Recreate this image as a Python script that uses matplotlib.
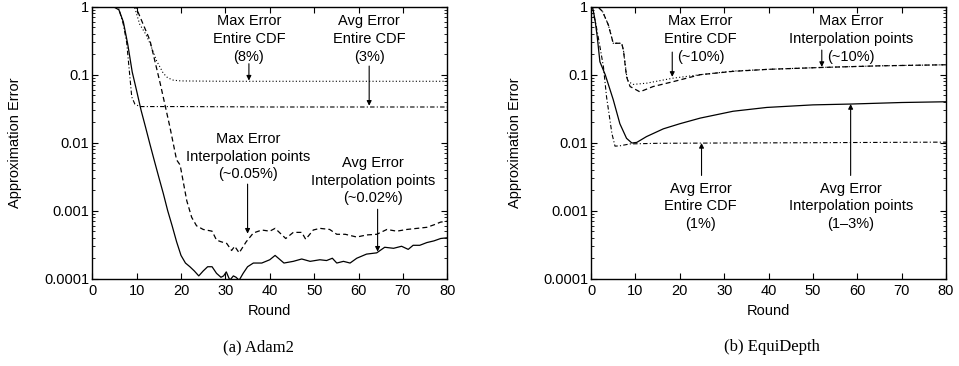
import matplotlib
matplotlib.use("Agg")
import matplotlib.pyplot as plt
from matplotlib.ticker import FixedLocator, FixedFormatter, LogLocator, NullFormatter

plt.rcParams['font.family'] = ['Liberation Sans', 'DejaVu Sans']

# ---- (a) Adam2 ----
adam_avg_interp_x = [0, 4, 5, 6, 7, 8, 9, 10, 11, 12, 13, 14, 15, 16, 17, 18, 19, 20, 21, 22, 23, 24,
                     25, 26, 27, 28, 29, 29.6, 30.2, 31, 31.8, 32.4, 33.1, 34, 35, 36.3, 38.2, 40, 41.2,
                     43.2, 45.3, 47.2, 49.1, 51.3, 52.8, 54.1, 55.1, 56.6, 58.1, 59.6, 61.8, 64.1, 65.9,
                     67.9, 69.7, 71.2, 72.3, 73.8, 75.4, 77, 78.5, 80]
adam_avg_interp_y = [1, 1, 0.98, 0.9, 0.6, 0.28, 0.11, 0.058, 0.03, 0.017, 0.0095, 0.0054, 0.0031,
                     0.0018, 0.001, 0.0006, 0.00035, 0.00022, 0.00017, 0.00015, 0.00013, 0.00011,
                     0.00013, 0.00015, 0.00015, 0.00012, 0.000105, 0.00011, 0.000126, 0.000095,
                     0.00011, 0.000105, 0.000095, 0.00012, 0.00015, 0.00017, 0.00017, 0.00019, 0.00022,
                     0.00017, 0.00018, 0.000195, 0.00018, 0.00019, 0.000185, 0.0002, 0.00017, 0.00018,
                     0.00017, 0.0002, 0.00023, 0.00024, 0.00029, 0.00028, 0.0003, 0.00027, 0.00031,
                     0.00031, 0.00034, 0.00036, 0.00039, 0.0004]

adam_max_interp_x = [0, 9.8, 13, 15.3, 17.5, 19, 19.8, 21.3, 22.4, 23.5, 25, 27, 28, 29, 30.3, 31.4,
                     32.1, 33.1, 34.7, 36.3, 38.2, 40, 41.2, 42.3, 43.6, 45.3, 47.2, 48.1, 49.8, 51.3,
                     53.5, 55.1, 57, 59.6, 61.8, 64.1, 66.4, 68.6, 70.9, 73.2, 75.4, 77, 78.5, 80]
adam_max_interp_y = [1, 1, 0.32, 0.075, 0.017, 0.0056, 0.0047, 0.0014, 0.0008, 0.0006, 0.00053,
                     0.0005, 0.00037, 0.00035, 0.00033, 0.00026, 0.0003, 0.00024, 0.00035, 0.00047,
                     0.00052, 0.0005, 0.00055, 0.00047, 0.00039, 0.00048, 0.00048, 0.00038, 0.00052,
                     0.00055, 0.00053, 0.00045, 0.00045, 0.00041, 0.00044, 0.00045, 0.00053, 0.0005,
                     0.00053, 0.00055, 0.00057, 0.00062, 0.00068, 0.0007]

adam_max_cdf_x = [0, 9.5, 10.7, 12, 13, 14.5, 16, 17, 18.3, 20, 30, 50, 80]
adam_max_cdf_y = [1, 1, 0.55, 0.4, 0.29, 0.16, 0.105, 0.09, 0.083, 0.081, 0.08, 0.08, 0.08]

adam_avg_cdf_x = [0, 5, 6, 7, 7.75, 8.5, 8.9, 9.6, 10.7, 12, 20, 40, 60, 80]
adam_avg_cdf_y = [1, 1, 0.93, 0.55, 0.3, 0.09, 0.047, 0.037, 0.034, 0.034, 0.034, 0.0335, 0.0335, 0.0335]

# ---- (b) EquiDepth ----
eq_avg_interp_x = [0, 0.4, 0.9, 1.4, 2, 3.2, 5, 6.5, 8, 9.2, 10.3, 12.5, 16.3, 20, 24.6, 32, 39.6,
                   50, 58.4, 70, 80]
eq_avg_interp_y = [1, 0.95, 0.64, 0.36, 0.155, 0.1, 0.043, 0.019, 0.0116, 0.0099, 0.0101, 0.0123,
                   0.016, 0.019, 0.023, 0.029, 0.033, 0.036, 0.037, 0.039, 0.04]

eq_avg_cdf_x = [0, 1, 2, 2.8, 3.5, 4.7, 5.4, 6.5, 8.8, 15, 30, 50, 80]
eq_avg_cdf_y = [1, 0.6, 0.26, 0.13, 0.047, 0.0137, 0.0089, 0.009, 0.0096, 0.0098, 0.0099, 0.01, 0.0102]

eq_max_interp_x = [0, 1.5, 2.6, 3.9, 5, 6.9, 7.3, 8, 8.8, 11, 14, 18.5, 24.6, 32, 40, 52.4, 65, 80]
eq_max_interp_y = [1, 1, 0.85, 0.54, 0.29, 0.29, 0.23, 0.093, 0.067, 0.056, 0.067, 0.079, 0.1,
                   0.112, 0.12, 0.128, 0.135, 0.14]

eq_max_cdf_x = [0, 1.5, 2.6, 3.9, 5, 6.9, 7.3, 8, 8.4, 9.5, 12.5, 18.5, 24.6, 32, 40, 52, 65, 80]
eq_max_cdf_y = [1, 1, 0.85, 0.54, 0.29, 0.29, 0.23, 0.1, 0.079, 0.072, 0.075, 0.089, 0.1, 0.113,
                0.12, 0.128, 0.135, 0.14]

yticks = [0.0001, 0.001, 0.01, 0.1, 1]
yticklabels = ['0.0001', '0.001', '0.01', '0.1', '1']
xticks = [0, 10, 20, 30, 40, 50, 60, 70, 80]

solid = '-'
dashed = (0, (4, 2.5))
dotted = (0, (1, 2))
dashdot = (0, (4, 2, 1, 2))

fig = plt.figure(figsize=(9.59, 3.66), dpi=100)
ax1 = fig.add_axes([0.0962, 0.2385, 0.3702, 0.7432])
ax2 = fig.add_axes([0.6163, 0.2385, 0.3702, 0.7432])


def style_axes(ax, lab_x):
    ax.set_yscale('log')
    ax.set_xlim(0, 80)
    ax.set_ylim(0.0001, 1)
    ax.yaxis.set_major_locator(FixedLocator(yticks))
    ax.yaxis.set_major_formatter(FixedFormatter(yticklabels))
    ax.yaxis.set_minor_locator(LogLocator(base=10, subs=range(2, 10)))
    ax.yaxis.set_minor_formatter(NullFormatter())
    ax.set_xticks(xticks)
    ax.tick_params(which='both', direction='in', top=True, right=True, labelsize=10.5)
    ax.tick_params(which='major', length=4.5, width=0.8)
    ax.tick_params(which='minor', length=2.5, width=0.6)
    ax.tick_params(axis='y', pad=2)
    ax.tick_params(axis='x', pad=4)
    for s in ax.spines.values():
        s.set_linewidth(1.0)
    ax.set_xlabel('Round', fontsize=10.5)
    ax.set_ylabel('Approximation Error', fontsize=10.5)
    ax.yaxis.set_label_coords(lab_x, 0.5)
    ax.xaxis.set_label_coords(0.5, -0.094)


def note(ax, text, tx, ty, ax_x, y0, y1):
    ax.text(tx, ty, text, ha='center', va='center', multialignment='center', fontsize=10.5,
            linespacing=1.32)
    ax.annotate('', xy=(ax_x, y1), xytext=(ax_x, y0),
                arrowprops=dict(arrowstyle='-|>', lw=0.8, color='black', mutation_scale=7,
                                shrinkA=0, shrinkB=0))


lw = 0.9
ax1.plot(adam_avg_interp_x, adam_avg_interp_y, color='black', lw=lw, linestyle=solid)
ax1.plot(adam_max_interp_x, adam_max_interp_y, color='black', lw=lw, linestyle=dashed)
ax1.plot(adam_max_cdf_x, adam_max_cdf_y, color='black', lw=0.8, linestyle=dotted)
ax1.plot(adam_avg_cdf_x, adam_avg_cdf_y, color='black', lw=0.8, linestyle=dashdot)
style_axes(ax1, -0.197)
note(ax1, 'Max Error\nEntire CDF\n(8%)', 35.3, 0.335, 35.3, 0.145, 0.082)
note(ax1, 'Avg Error\nEntire CDF\n(3%)', 62.4, 0.335, 62.4, 0.134, 0.035)
note(ax1, 'Max Error\nInterpolation points\n(~0.05%)', 35.1, 0.0062, 35.0, 0.00246, 0.00046)
note(ax1, 'Avg Error\nInterpolation points\n(~0.02%)', 63.2, 0.00275, 64.3, 0.00105, 0.00025)

ax2.plot(eq_avg_interp_x, eq_avg_interp_y, color='black', lw=lw, linestyle=solid)
ax2.plot(eq_max_interp_x, eq_max_interp_y, color='black', lw=lw, linestyle=dashed)
ax2.plot(eq_max_cdf_x, eq_max_cdf_y, color='black', lw=0.8, linestyle=dotted)
ax2.plot(eq_avg_cdf_x, eq_avg_cdf_y, color='black', lw=0.8, linestyle=dashdot)
style_axes(ax2, -0.194)
note(ax2, 'Max Error\nEntire CDF\n(~10%)', 24.7, 0.335, 18.3, 0.215, 0.093)
note(ax2, 'Max Error\nInterpolation points\n(~10%)', 58.6, 0.335, 52.0, 0.23, 0.13)
note(ax2, 'Avg Error\nEntire CDF\n(1%)', 24.7, 0.00117, 24.9, 0.0033, 0.0099)
note(ax2, 'Avg Error\nInterpolation points\n(1\u20133%)', 58.6, 0.00117, 58.5, 0.0033, 0.037)

fig.text(258 / 959, 1 - 347 / 366, '(a) Adam2', ha='center', va='center', fontsize=12,
         family=['Liberation Serif', 'DejaVu Serif'])
fig.text(772 / 959, 1 - 347 / 366, '(b) EquiDepth', ha='center', va='center', fontsize=12,
         family=['Liberation Serif', 'DejaVu Serif'])

fig.savefig('out.png', dpi=100)
